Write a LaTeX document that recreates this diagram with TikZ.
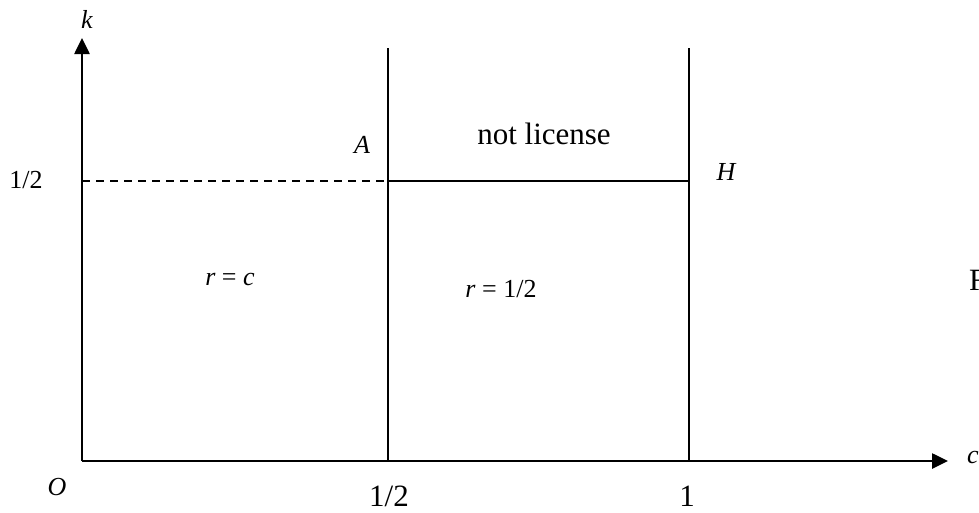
\documentclass[tikz,border=0pt]{standalone}
\usepackage{fontspec}
\setmainfont{Liberation Serif}
\usetikzlibrary{arrows.meta}
\begin{document}
\begin{tikzpicture}[x=1pt,y=-1pt,
  ln/.style={line width=2.6pt},
  axis/.style={ln,-{Triangle[length=16pt,width=15pt]}},
  dsh/.style={line width=1.8pt,dash pattern=on 8pt off 6pt},
  small/.style={font=\fontsize{26}{29}\selectfont,inner sep=0pt,anchor=base},
  big/.style={font=\fontsize{31}{35}\selectfont,inner sep=0pt,anchor=base}]
\useasboundingbox (0,0) rectangle (979,512);
\coordinate (O) at (82,461);
\coordinate (ytop) at (82,38);
\coordinate (xend) at (948,461);
\coordinate (h0) at (388,461);
\coordinate (h1) at (689,461);
\coordinate (t0) at (388,48);
\coordinate (t1) at (689,48);
\coordinate (A) at (388,181);
\coordinate (H) at (689,181);
\coordinate (L) at (82,181);
\draw[axis] (O) -- (ytop);
\draw[axis] (O) -- (xend);
\draw[ln] (h0) -- (t0);
\draw[ln] (h1) -- (t1);
\draw[ln] (A) -- (H);
\draw[dsh] (L) -- (A);
\node[small] (lk) at (87,28) {\itshape k};
\node[small] (lhalf) at (26,188) {1/2};
\node[small] (lO) at (57,495) {\itshape O};
\node[small] (lA) at (362,153) {\itshape A};
\node[big] (lnot) at (544,144) {not license};
\node[small] (lH) at (726,180) {\itshape H};
\node[small] (lrc) at (230,285) {\textit{r} = \textit{c}};
\node[small] (lrh) at (501,297) {\textit{r} = 1/2};
\node[big] (lb1) at (389,506) {1/2};
\node[big] (lb2) at (687,506) {1};
\node[small,anchor=base west] (lc) at (967,463) {\itshape c};
\node[big,anchor=base west] (lF) at (969,290) {F};
\end{tikzpicture}
\end{document}
